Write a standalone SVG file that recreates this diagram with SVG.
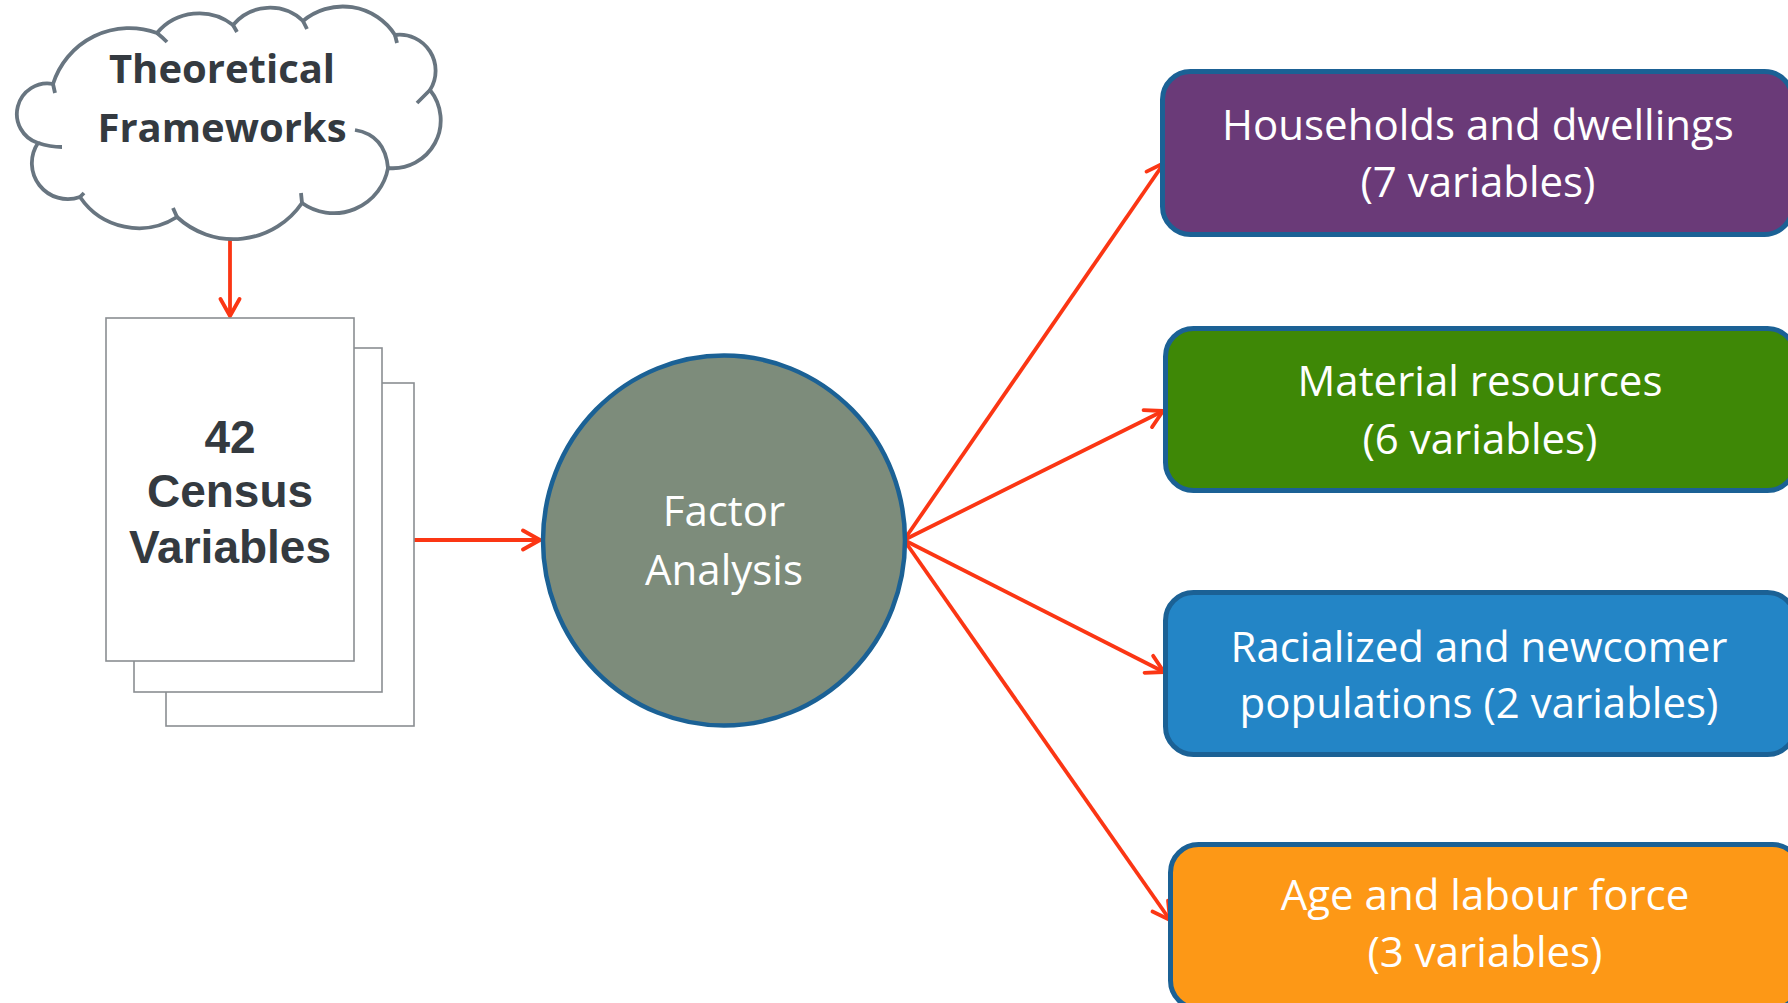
<svg xmlns="http://www.w3.org/2000/svg" width="1788" height="1003" viewBox="0 0 1788 1003">
<style>
.cloud{fill:none;stroke:#687580;stroke-width:3.8;stroke-linecap:butt}
.page{fill:#ffffff;stroke:#8a8e92;stroke-width:1.6}
.dark{font-family:"Liberation Sans",Arial,sans-serif;font-weight:bold;font-size:46px;fill:#343a40;text-anchor:middle}
.cloudtxt{font-family:"Open Sans",sans-serif;font-weight:bold;font-size:40px;fill:#343a40;text-anchor:middle}
.white{font-family:"Open Sans",sans-serif;font-size:42px;fill:#ffffff;text-anchor:middle}
.box{stroke:#1b6195;stroke-width:5}
.conn{stroke:#fb3614;stroke-width:3.8;fill:none}
</style>
<defs>
<marker id="arr" viewBox="-22 -12 24 24" markerWidth="24" markerHeight="24" refX="0" refY="0" orient="auto" markerUnits="userSpaceOnUse">
<path d="M-17,-9.5 L0,0 L-17,9.5" fill="none" stroke="#fb3614" stroke-width="3.8" stroke-linecap="round" stroke-linejoin="round"/>
</marker>
</defs>
<rect width="1788" height="1003" fill="#ffffff"/>

<g id="connectors">
<line class="conn" x1="230" y1="240" x2="230" y2="316" marker-end="url(#arr)"/>
<line class="conn" x1="414" y1="540" x2="540" y2="540" marker-end="url(#arr)"/>
<line class="conn" x1="904" y1="540" x2="1164" y2="163" marker-end="url(#arr)"/>
<line class="conn" x1="904" y1="540" x2="1163" y2="411" marker-end="url(#arr)"/>
<line class="conn" x1="904" y1="540" x2="1164" y2="672" marker-end="url(#arr)"/>
<line class="conn" x1="904" y1="540" x2="1170" y2="920" marker-end="url(#arr)"/>
</g>

<g id="theoretical-frameworks">
<path class="cloud" d="M53 84 A80 80 0 0 1 157 33 A55 55 0 0 1 233 25 A48 48 0 0 1 303 21 A62 62 0 0 1 395 35 A36 36 0 0 1 430 90 A48 48 0 0 1 388 168 A55 55 0 0 1 302 203 A83 83 0 0 1 177 217 A71 71 0 0 1 80 197 A36 36 0 0 1 38 143 A30.5 30.5 0 0 1 53 84 Z"/>
<path class="cloud" d="M53 84 L55 93 M157 33 Q162 37 167 42 M233 25 L237 32 M303 21 L307 29 M395 35 L397 43 M430 90 L417 103 M388 168 Q385 135 355 130 M302 203 L301 193 M177 217 L173 208 M80 197 L84 193 M38 143 Q50 147 62 147"/>
<text class="cloudtxt" x="222" y="83">Theoretical</text>
<text class="cloudtxt" x="222" y="142">Frameworks</text>
</g>

<g id="census-variables">
<rect class="page" x="166" y="383" width="248" height="343"/>
<rect class="page" x="134" y="348" width="248" height="344"/>
<rect class="page" x="106" y="318" width="248" height="343"/>
<text class="dark" x="230" y="453">42</text>
<text class="dark" x="230" y="507">Census</text>
<text class="dark" x="230" y="563">Variables</text>
</g>

<g id="factor-analysis">
<ellipse cx="724" cy="540.5" rx="181" ry="185" fill="#7d8c7b" stroke="#1b6195" stroke-width="4.5"/>
<text class="white" x="724" y="526" font-size="41">Factor</text>
<text class="white" x="724" y="585" font-size="41">Analysis</text>
</g>

<g id="households">
<rect class="box" x="1162.5" y="71.5" width="630" height="163" rx="28" fill="#6a3a78"/>
<text class="white" x="1478" y="140">Households and dwellings</text>
<text class="white" x="1478" y="197">(7 variables)</text>
</g>

<g id="material">
<rect class="box" x="1165.5" y="328.5" width="630" height="162" rx="28" fill="#3e8806"/>
<text class="white" x="1480" y="396">Material resources</text>
<text class="white" x="1480" y="454">(6 variables)</text>
</g>

<g id="racialized">
<rect class="box" x="1165.5" y="592.5" width="630" height="162" rx="28" fill="#2385c6" stroke="#1c5d8c"/>
<text class="white" x="1479" y="662">Racialized and newcomer</text>
<text class="white" x="1479" y="718">populations (2 variables)</text>
</g>

<g id="age-labour">
<rect class="box" x="1170.5" y="844.5" width="630" height="164" rx="28" fill="#fd9816"/>
<text class="white" x="1485" y="910">Age and labour force</text>
<text class="white" x="1485" y="967">(3 variables)</text>
</g>
</svg>
